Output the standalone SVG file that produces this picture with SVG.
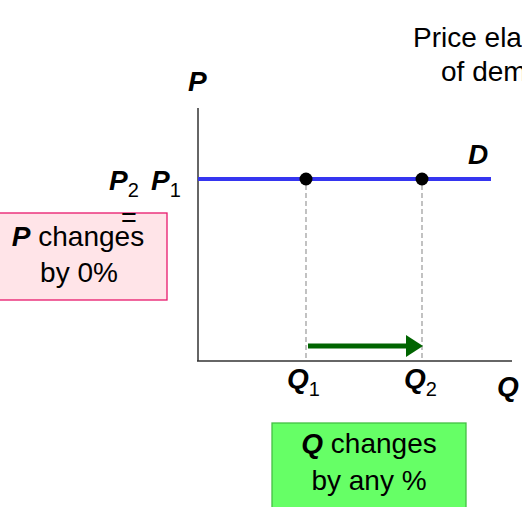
<svg xmlns="http://www.w3.org/2000/svg" width="522" height="507" viewBox="0 0 522 507">
<style>
text{font-family:"Liberation Sans","DejaVu Sans",sans-serif;fill:#000}
.t{font-size:28px}
.v{font-size:28px;font-weight:bold;font-style:italic}
.s{font-size:20px;font-weight:normal;font-style:normal}
.axis{stroke:#333;stroke-width:1.5;fill:none}
.dash{stroke:#999;stroke-width:1.2;stroke-dasharray:5,3;fill:none}
</style>
<rect width="522" height="507" fill="#fff"/>
<g id="title">
<text class="t" x="413" y="47">Price elasticity</text>
<text class="t" x="441" y="81">of demand</text>
</g>
<g id="axes">
<line class="axis" x1="198" y1="108" x2="198" y2="361"/>
<line class="axis" x1="197" y1="361" x2="512" y2="361"/>
<text class="v" x="188" y="91">P</text>
<text class="v" x="497" y="396">Q</text>
</g>
<g id="connectors">
<line class="dash" x1="306" y1="185" x2="306" y2="361"/>
<line class="dash" x1="422" y1="185" x2="422" y2="361"/>
<line x1="308" y1="346" x2="410" y2="346" stroke="#006400" stroke-width="5"/>
<polygon points="406,335 423,346 406,357" fill="#006400"/>
</g>
<g id="demand">
<line x1="198" y1="179" x2="491" y2="179" stroke="#3535f0" stroke-width="4"/>
<text class="v" x="468" y="164">D</text>
</g>
<g id="point1"><circle cx="306" cy="179" r="6.5" fill="#000"/></g>
<g id="point2"><circle cx="422" cy="179" r="6.5" fill="#000"/></g>
<g id="qlabels">
<text class="v" x="287" y="388">Q<tspan class="s" dy="8">1</tspan></text>
<text class="v" x="404" y="388">Q<tspan class="s" dy="8">2</tspan></text>
</g>
<g id="pbox">
<rect x="-1" y="213" width="168" height="87" fill="#ffe4e8" stroke="#e8186c" stroke-width="1.3"/>
<text class="t" x="78" y="246" text-anchor="middle"><tspan font-weight="bold" font-style="italic">P</tspan> changes</text>
<text class="t" x="79" y="282" text-anchor="middle">by 0%</text>
</g>
<g id="plabels">
<text class="v" x="109" y="190">P<tspan class="s" dy="7">2</tspan></text>
<text class="v" x="151" y="190">P<tspan class="s" dy="7">1</tspan></text>
<text x="121" y="227" style="font-size:27px">=</text>
</g>
<g id="qbox">
<rect x="272" y="423" width="194" height="90" fill="#66ff66" stroke="#44c044" stroke-width="1.3"/>
<text class="t" x="369" y="453" text-anchor="middle"><tspan font-weight="bold" font-style="italic">Q</tspan>  changes</text>
<text class="t" x="369" y="490" text-anchor="middle">by any %</text>
</g>
</svg>
